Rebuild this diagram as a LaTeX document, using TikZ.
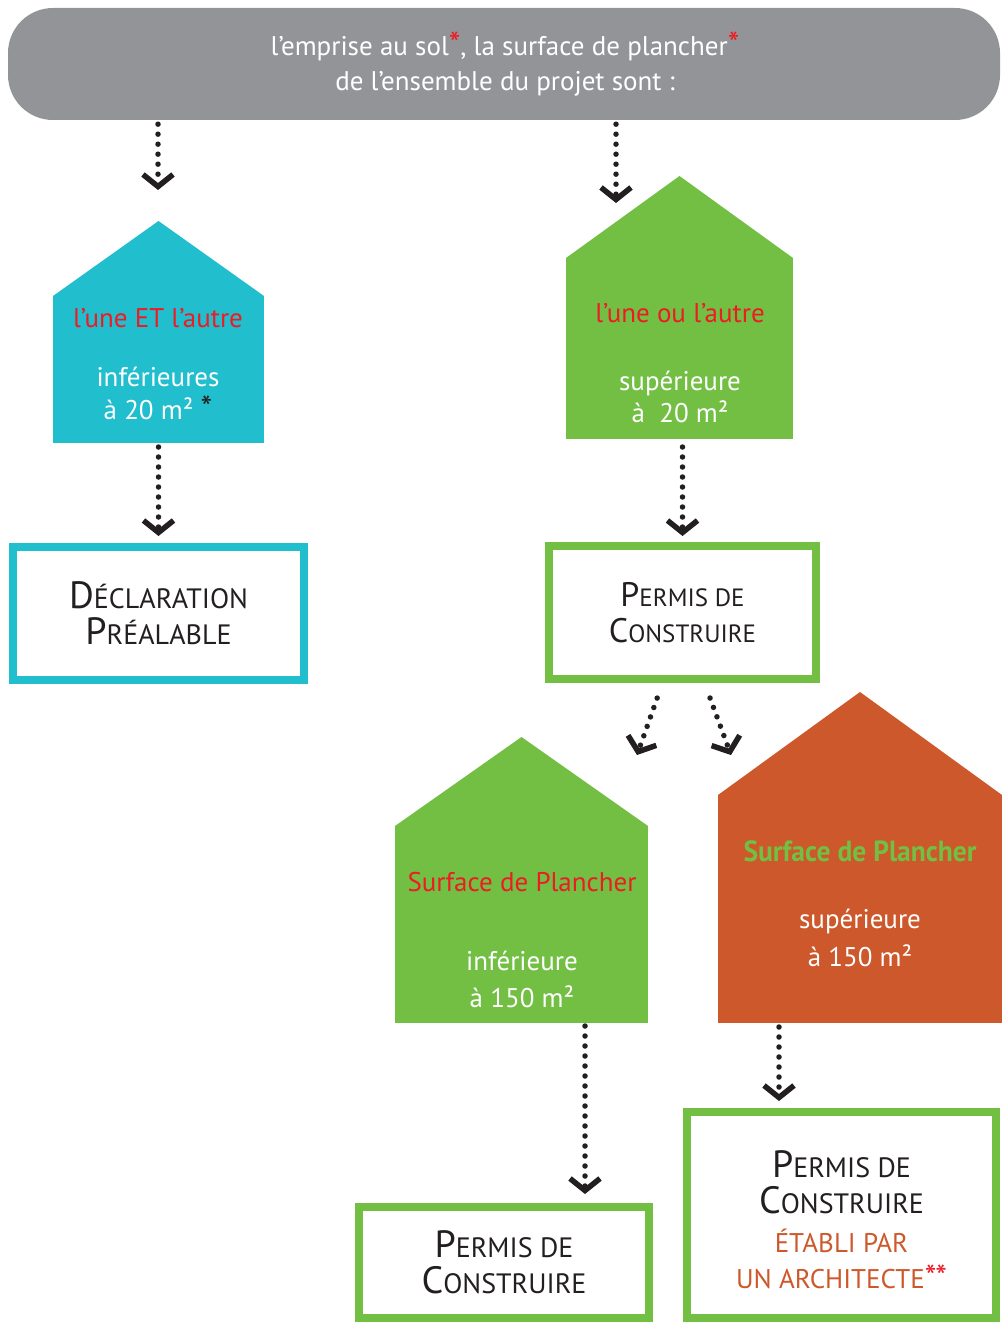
\documentclass[tikz,border=0pt]{standalone}
\usepackage{fontspec}
\setmainfont{PT Sans}
\usetikzlibrary{arrows.meta, positioning}
\definecolor{gris}{RGB}{147,148,152}
\definecolor{turquoise}{RGB}{33,190,206}
\definecolor{vert}{RGB}{114,191,68}
\definecolor{brique}{RGB}{205,88,43}
\definecolor{rouge}{RGB}{237,28,36}
\definecolor{encre}{RGB}{35,31,32}
\newcommand{\petitecap}[2]{{\fontsize{38}{36}\selectfont #1}{\fontsize{28}{36}\selectfont #2}}
\newcommand{\minicap}[2]{{\fontsize{34}{33}\selectfont #1}{\fontsize{25}{33}\selectfont #2}}
\newcommand{\etoile}{{\fontsize{33}{33}\selectfont *}}

\begin{document}
\begin{tikzpicture}[x=1pt,y=-1pt,
  maison/.style={rectangle, inner sep=0, outer sep=0},
  cadre/.style={rectangle, draw, line width=8pt, fill=white, align=center, text=encre, font=\fontsize{28}{36}\selectfont},
  texte/.style={align=center, text=white, inner sep=0, font=\fontsize{27}{35}\selectfont},
  fleche/.style={draw=encre, line width=5.5pt, line cap=round, dash pattern=on 0pt off 10pt,
    -{Straight Barb[length=12pt, width=30pt, line width=5.5pt]}}]
\useasboundingbox (0,0) rectangle (1002,1324);
% Demarches selon la surface du projet
\node[fill=gris, rounded corners=45, minimum width=992, minimum height=112, inner sep=0] (haut) at (504,64) {};
\node[texte] (question) at (505,64) {l’emprise au sol{\color{rouge}\etoile}, la surface de plancher{\color{rouge}\etoile}\\de l’ensemble du projet sont :};

\node[maison, fill=turquoise, minimum width=211, minimum height=147] (m1) at (158.5,369.5) {};
\fill[turquoise] (m1.north west) -- ([yshift=75]m1.north) -- (m1.north east) -- cycle;
\node[texte, text=rouge] (t1) at (158,318) {l’une ET l’autre};
\node[texte] (s1) at (158,393.5) {inférieures\\[-2pt]à 20 m² {\color{encre}\etoile}};

\node[maison, fill=vert, minimum width=227, minimum height=181] (m2) at (679.5,348.5) {};
\fill[vert] (m2.north west) -- ([yshift=82]m2.north) -- (m2.north east) -- cycle;
\node[texte, text=rouge] (t2) at (680,313) {l’une ou l’autre};
\node[texte] (s2) at (680,397) {supérieure\\[-3pt]à~ 20 m²};

\node[maison, fill=vert, minimum width=253, minimum height=197] (m3) at (521.5,924.5) {};
\fill[vert] (m3.north west) -- ([yshift=89]m3.north) -- (m3.north east) -- cycle;
\node[texte, text=rouge] (t3) at (522,882) {Surface de Plancher};
\node[texte] (s3) at (522,979.5) {inférieure\\[2pt]à 150 m²};

\node[maison, fill=brique, minimum width=284, minimum height=228] (m4) at (860,909) {};
\fill[brique] (m4.north west) -- ([yshift=103]m4.north) -- (m4.north east) -- cycle;
\node[texte, text=vert] (t4) at (860,851) {\bfseries\scalebox{1.02}[1.08]{Surface de Plancher}};
\node[texte] (s4) at (860,938) {supérieure\\[3pt]à 150 m²};

\node[cadre, draw=turquoise, minimum width=291, minimum height=133] (dp) at (158.5,613.5)
  {\petitecap{D}{ÉCLARATION}\\\petitecap{P}{RÉALABLE}};
\node[cadre, draw=vert, minimum width=267, minimum height=133] (pc1) at (682.5,612.5)
  {\minicap{P}{ERMIS DE}\\\minicap{C}{ONSTRUIRE}};
\node[cadre, draw=vert, minimum width=290, minimum height=111] (pc2) at (504,1262.5)
  {\petitecap{P}{ERMIS DE}\\\petitecap{C}{ONSTRUIRE}};
\node[cadre, draw=vert, minimum width=309, minimum height=206] (pc3) at (841.5,1215)
  {\rule{0pt}{37pt}\petitecap{P}{ERMIS DE}\\\petitecap{C}{ONSTRUIRE}\\[3pt]
   {\fontsize{27}{36}\selectfont\color{brique}ÉTABLI PAR}\\
   {\fontsize{27}{36}\selectfont\color{brique}UN ARCHITECTE\color{rouge}\etoile\kern-1pt\etoile}};

\coordinate (f1) at (158,190);
\coordinate (f2) at (616,203);
\coordinate (f3) at (637,755);
\coordinate (f4) at (731,755);
\coordinate (x5) at (585,0);
\coordinate (x6) at (779,0);

\draw[fleche, shorten <=4] (haut.south -| f1) -- (f1);
\draw[fleche, shorten <=4] (haut.south -| f2) -- (f2);
\draw[fleche, shorten <=4, shorten >=7] (m1.south) -- (dp.north);
\draw[fleche, shorten <=8, shorten >=6] (m2.south -| pc1.north) -- (pc1.north);
\draw[fleche, shorten <=16] ([xshift=-20]pc1.south) -- (f3);
\draw[fleche, shorten <=16] ([xshift=22]pc1.south) -- (f4);
\draw[fleche, shorten <=3, shorten >=9] (m3.south -| x5) -- (pc2.north -| x5);
\draw[fleche, shorten <=4, shorten >=7] (m4.south -| x6) -- (pc3.north -| x6);
\end{tikzpicture}
\end{document}
